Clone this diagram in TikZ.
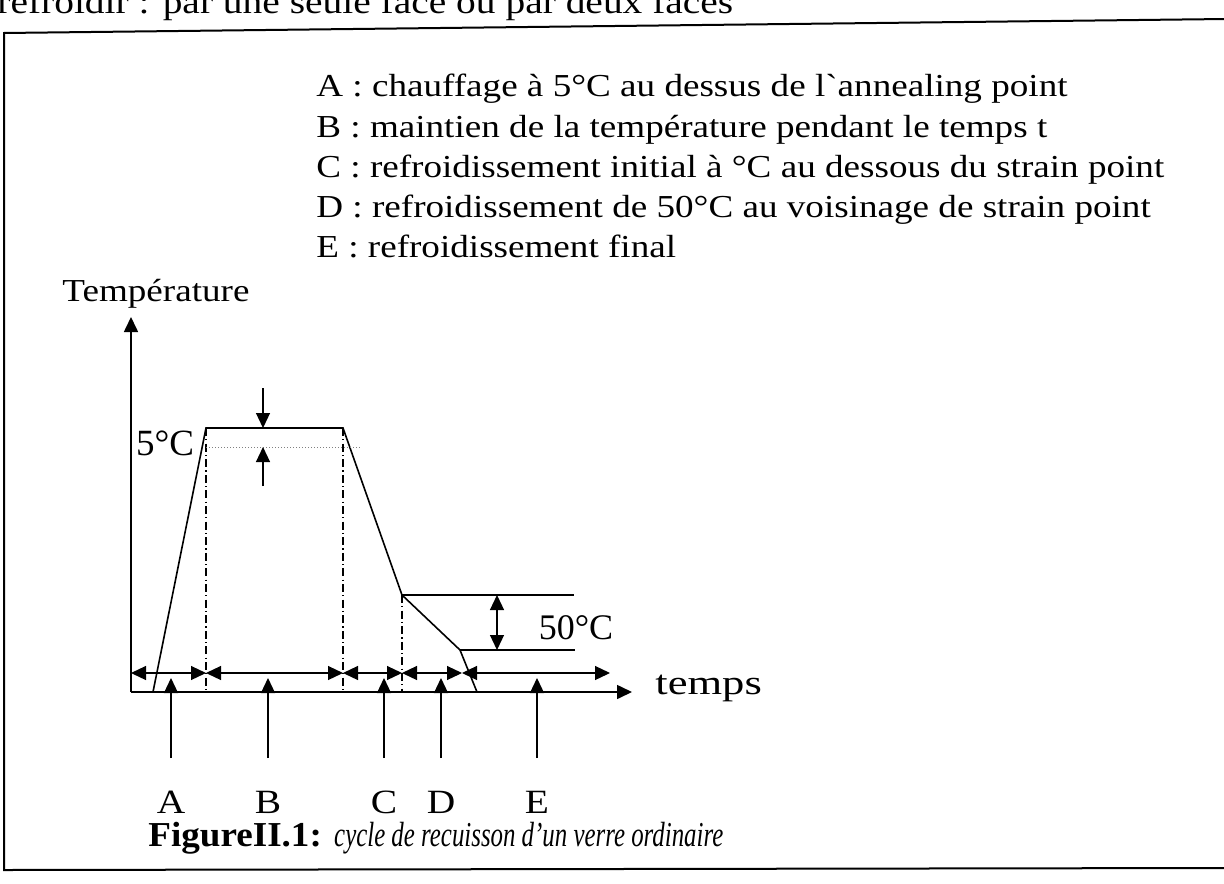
\documentclass[tikz,border=0pt]{standalone}
\usepackage{fontspec}
\usepackage{graphicx}
\setmainfont{Liberation Serif}
\newfontfamily\widefont[FakeStretch=1.16]{Liberation Serif}
\newfontfamily\capfont[FakeStretch=1.06]{Liberation Serif}
\usetikzlibrary{arrows.meta}
\begin{document}
\begin{tikzpicture}[x=0.5pt,y=-0.5pt,
  >={Triangle[length=7.5pt,width=7pt]},
  txt/.style={font=\widefont\fontsize{16}{19}\selectfont, inner sep=0pt},
  frame/.style={line width=1pt},
  axisline/.style={line width=0.8pt,->},
  cycle/.style={line width=0.8pt},
  guide/.style={line width=0.6pt, dash pattern=on 4pt off 1.6pt on 0.6pt off 1.6pt},
  thin/.style={line width=0.6pt},
  dim/.style={line width=0.6pt,<->},
  ptr/.style={line width=0.6pt,->}]
\useasboundingbox (0,0) rectangle (1224,883);
\clip (0,0) rectangle (1224,883);
% page text above the frame (cut off)
\node[txt, font=\widefont\fontsize{17}{19}\selectfont, anchor=base west] (page) at (-3,14) {refroidir : par une seule face ou par deux faces};
% frame
\coordinate (f1) at (4,33);
\coordinate (f2) at (1226,19);
\coordinate (f3) at (4,870);
\coordinate (f4) at (1226,868);
\draw[frame] (f2) -- (f1) -- (f3) -- (f4);
% legend
\node[txt, anchor=base west] (la) at (316,97) {A : chauffage à 5°C au dessus de l`annealing point};
\node[txt, anchor=base west] (lb) at (316,137) {B : maintien de la température pendant le temps t};
\node[txt, anchor=base west] (lc) at (316,177) {C : refroidissement initial à °C au dessous du strain point};
\node[txt, anchor=base west] (ld) at (316,217) {D : refroidissement de 50°C au voisinage de strain point};
\node[txt, anchor=base west] (le) at (316,257) {E : refroidissement final};
% axes
\coordinate (O) at (131,692);
\coordinate (ytop) at (131,317);
\coordinate (xend) at (632,692);
\draw[axisline] (O) -- (ytop);
\draw[axisline] (O) -- (xend);
\node[txt, anchor=base west] (ylab) at (62,301) {Température};
\node[txt, anchor=west] (xlab) at (655,688) {\scalebox{1.2}[1.08]{temps}};
% cycle
\coordinate (p0) at (153,692);
\coordinate (p1) at (206,428);
\coordinate (p2) at (343,428);
\coordinate (p3) at (402,595);
\coordinate (p4) at (460,650);
\coordinate (p5) at (477,692);
\draw[cycle] (p0) -- (p1) -- (p2) -- (p3) -- (p4) -- (p5);
% guides
\coordinate (g1) at (206,692);
\coordinate (g2) at (343,692);
\coordinate (g3) at (402,692);
\draw[guide] (p1) -- (g1);
\draw[guide] (p2) -- (g2);
\draw[guide] (p3) -- (g3);
% 5 C
\coordinate (d5a) at (206,447);
\coordinate (d5b) at (362,447);
\draw[line width=0.5pt, gray, densely dotted] (d5a) -- (d5b);
\coordinate (s1) at (263,388);
\coordinate (s1t) at (263,428);
\coordinate (s2) at (263,486);
\coordinate (s2t) at (263,447);
\draw[ptr] (s1) -- (s1t);
\draw[ptr] (s2) -- (s2t);
\node[txt, font=\fontsize{18.5}{20}\selectfont] (five) at (165,443) {5°C};
% 50 C
\coordinate (h1) at (574,595);
\coordinate (h2) at (575,650);
\draw[thin] (p3) -- (h1);
\draw[thin] (p4) -- (h2);
\coordinate (v1) at (497,595);
\coordinate (v2) at (497,650);
\draw[dim] (v1) -- (v2);
\node[txt, font=\fontsize{18}{20}\selectfont] (fifty) at (576,628) {50°C};
% interval arrows
\coordinate (r0) at (131,673);
\coordinate (r1) at (206,673);
\coordinate (r2) at (343,673);
\coordinate (r3) at (402,673);
\coordinate (r4) at (462,673);
\coordinate (r5) at (610,673);
\draw[dim] (r0) -- (r1);
\draw[dim] (r1) -- (r2);
\draw[dim] (r2) -- (r3);
\draw[dim] (r3) -- (r4);
\draw[dim] (r4) -- (r5);
% pointers
\foreach \n/\x in {A/171,B/268,C/384,D/441,E/537}{
  \coordinate (q\n) at (\x,758);
  \coordinate (t\n) at (\x,678);
  \draw[ptr] (q\n) -- (t\n);
  \node[txt, font=\widefont\fontsize{17}{20}\selectfont] (lab\n) at (\x,802) {\n};
}
% caption
\node[txt, anchor=base west, font=\capfont\fontsize{17.5}{20}\selectfont] (cap) at (148,846) {\textbf{FigureII.1:} \scalebox{0.67}[1]{\itshape cycle de recuisson d’un verre ordinaire}};
\end{tikzpicture}
\end{document}
